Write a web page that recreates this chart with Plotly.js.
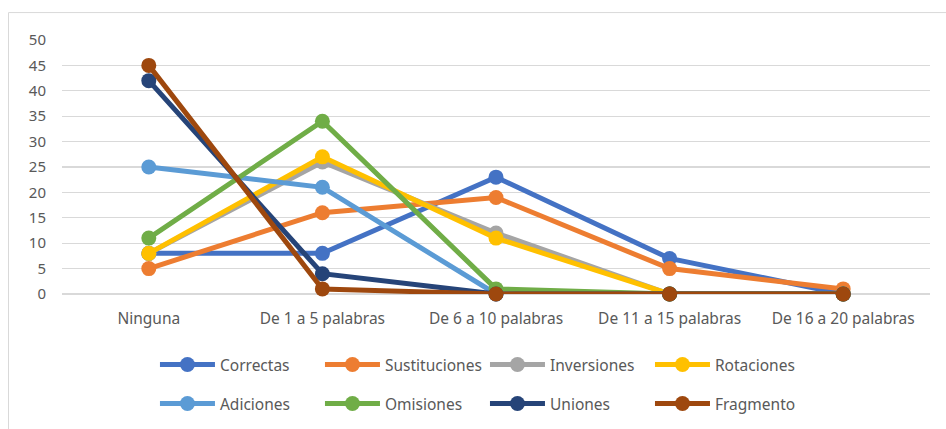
<!DOCTYPE html>
<html>
<head>
<meta charset="utf-8">
<script src="https://cdn.plot.ly/plotly-3.0.1.min.js"></script>
<style>html,body{margin:0;padding:0;background:#fff;}#chart{width:946px;height:429px;}</style>
</head>
<body>
<div id="chart"></div>
<script>
const categories = ["Ninguna", "De 1 a 5 palabras", "De 6 a 10 palabras", "De 11 a 15 palabras", "De 16 a 20 palabras"];
const correctas = [8, 8, 23, 7, 0];
const sustituciones = [5, 16, 19, 5, 1];
const inversiones = [8, 26, 12, 0, 0];
const rotaciones = [8, 27, 11, 0, 0];
const adiciones = [25, 21, 0, 0, 0];
const omisiones = [11, 34, 1, 0, 0];
const uniones = [42, 4, 0, 0, 0];
const fragmento = [45, 1, 0, 0, 0];
const yTicks = [0, 5, 10, 15, 20, 25, 30, 35, 40, 45, 50];

const seriesNames = ["Correctas", "Sustituciones", "Inversiones", "Rotaciones", "Adiciones", "Omisiones", "Uniones", "Fragmento"];
const seriesValues = [correctas, sustituciones, inversiones, rotaciones, adiciones, omisiones, uniones, fragmento];
const seriesColors = ["#4472C4", "#ED7D31", "#A5A5A5", "#FFC000", "#5B9BD5", "#70AD47", "#264478", "#9E480E"];

const FONT = "'Noto Sans', 'Open Sans', sans-serif";
const legendIds = seriesNames.map((n, i) => i === 0 ? "legend" : "legend" + (i + 1));

const data = seriesNames.map((name, i) => ({
  type: "scatter",
  mode: "lines+markers",
  name: name,
  x: categories,
  y: seriesValues[i],
  legend: legendIds[i],
  line: {color: seriesColors[i], width: 5},
  marker: {color: seriesColors[i], size: 15},
  cliponaxis: false
}));

const layout = {
  width: 946,
  height: 429,
  margin: {l: 62, r: 16, t: 40, b: 135, autoexpand: false},
  paper_bgcolor: "#ffffff",
  plot_bgcolor: "#ffffff",
  showlegend: true,
  font: {family: FONT, color: "#595959"},
  xaxis: {
    type: "category",
    range: [-0.5, 4.5],
    showgrid: false,
    showline: false,
    zeroline: false,
    ticks: "",
    tickfont: {family: FONT, size: 15.5, color: "#595959"},
    ticklabelstandoff: 13
  },
  yaxis: {
    range: [0, 50],
    tickvals: yTicks,
    showgrid: true,
    gridcolor: "#D9D9D9",
    gridwidth: 1.3,
    zeroline: true,
    zerolinecolor: "#D9D9D9",
    zerolinewidth: 1.3,
    showline: false,
    ticks: "",
    tickfont: {family: FONT, size: 15, color: "#595959"},
    ticklabelstandoff: 15
  },
  shapes: [{
    type: "rect", xref: "paper", yref: "paper",
    x0: -0.0616, x1: 1.2, y0: -0.7, y1: 1.108,
    line: {color: "#D9D9D9", width: 1},
    fillcolor: "rgba(0,0,0,0)",
    layer: "below"
  }]
};

// one legend per entry, laid out in a 4 x 2 grid like the reference
legendIds.forEach((id, i) => {
  const col = i % 4, row = Math.floor(i / 4);
  layout[id] = {
    orientation: "h",
    xanchor: "left",
    yanchor: "middle",
    x: 0.1071 + col * 0.1901,
    y: row === 0 ? -0.2795 : -0.433,
    itemwidth: 55,
    font: {family: FONT, size: 15.5, color: "#595959"},
    bgcolor: "rgba(0,0,0,0)",
    borderwidth: 0
  };
});

Plotly.newPlot("chart", data, layout, {displayModeBar: false, staticPlot: true});
</script>
</body>
</html>
